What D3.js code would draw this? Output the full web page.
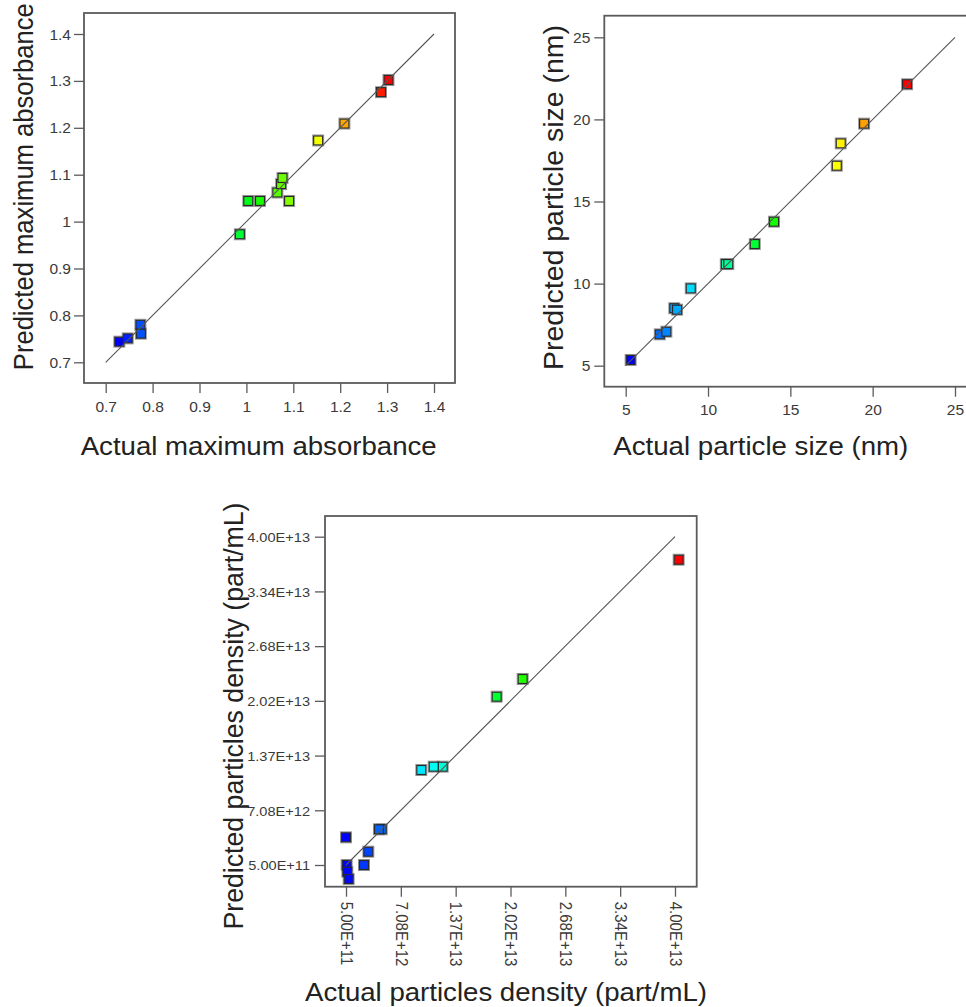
<!DOCTYPE html>
<html>
<head>
<meta charset="utf-8">
<script src="https://cdn.jsdelivr.net/npm/d3@7"></script>
<style>
  html, body { margin: 0; padding: 0; background: #fff; }
  svg { display: block; font-family: Arial, "Liberation Sans", sans-serif; }
</style>
</head>
<body>
<svg id="fig" width="966" height="1007"></svg>
<script>
// ---- Maximum absorbance: actual vs predicted ----
const absActual    = [0.729, 0.747, 0.774, 0.775, 0.986, 1.004, 1.029, 1.066, 1.074, 1.077, 1.091, 1.153, 1.209, 1.287, 1.303];
const absPredicted = [0.744, 0.751, 0.780, 0.761, 0.973, 1.044, 1.044, 1.062, 1.080, 1.093, 1.044, 1.173, 1.209, 1.276, 1.302];
const absTicks      = [0.7, 0.8, 0.9, 1.0, 1.1, 1.2, 1.3, 1.4];
const absTickLabels = ["0.7", "0.8", "0.9", "1", "1.1", "1.2", "1.3", "1.4"];

// ---- Particle size (nm): actual vs predicted ----
const sizeActual    = [5.30, 7.07, 7.47, 7.95, 8.12, 8.95, 11.08, 11.23, 12.84, 14.01, 17.82, 18.06, 19.48, 22.09];
const sizePredicted = [5.35, 6.91, 7.07, 8.50, 8.41, 9.71, 11.19, 11.19, 12.41, 13.77, 17.18, 18.54, 19.74, 22.14];
const sizeTicks      = [5, 10, 15, 20, 25];
const sizeTickLabels = ["5", "10", "15", "20", "25"];

// ---- Particles density (part/mL): actual vs predicted ----
const densActual    = [4.044e13, 2.171e13, 1.859e13, 1.211e13, 1.103e13, 0.954e13, 0.479e13, 0.446e13, 0.050e13, 0.318e13, 0.266e13, 0.058e13, 0.066e13, 0.082e13];
const densPredicted = [3.723e13, 2.288e13, 2.075e13, 1.233e13, 1.233e13, 1.193e13, 0.480e13, 0.480e13, 0.383e13, 0.210e13, 0.050e13, 0.050e13, -0.031e13, -0.118e13];
const densTicks      = [5.0e11, 7.0833e12, 1.36667e13, 2.025e13, 2.68333e13, 3.34167e13, 4.0e13];
const densTickLabels = ["5.00E+11", "7.08E+12", "1.37E+13", "2.02E+13", "2.68E+13", "3.34E+13", "4.00E+13"];

const svg = d3.select("#fig");
const STRETCH = 1.08;          // horizontal glyph widening used throughout the figure
const FRAME = "#5b5b5b";
const INK = "#222";
const TICK_INK = "#3a3a3a";
const FONT = "Arial, 'Liberation Sans', sans-serif";

function drawPanel(p) {
  const g = svg.append("g");
  const t0 = p.ticks[0], t1 = p.ticks[p.ticks.length - 1];
  const x = d3.scaleLinear().domain([t0, t1]).range(p.xPx);
  const y = d3.scaleLinear().domain([t0, t1]).range(p.yPx);

  // points are coloured by their actual value: blue (low) through green to red (high)
  const lo = d3.min(p.actual), hi = d3.max(p.actual);
  const color = d3.scaleLinear()
    .domain(d3.range(5).map(i => lo + i * (hi - lo) / 4))
    .range(["#0000ff", "#00ffff", "#00ff00", "#ffff00", "#ff0000"])
    .clamp(true);

  // plot frame
  g.append("rect")
    .attr("x", p.frame[0]).attr("y", p.frame[1])
    .attr("width", p.frame[2] - p.frame[0]).attr("height", p.frame[3] - p.frame[1])
    .attr("fill", "#fff").attr("stroke", FRAME).attr("stroke-width", 1.8);

  const fmt = (d, i) => p.labels[i];

  // bottom axis
  const ax = g.append("g")
    .attr("transform", `translate(0,${p.frame[3]})`)
    .call(d3.axisBottom(x).tickValues(p.ticks).tickFormat(fmt).tickSize(10).tickSizeOuter(0));
  ax.select(".domain").remove();
  ax.selectAll(".tick line").attr("stroke", FRAME).attr("stroke-width", 1.3);
  const axText = ax.selectAll(".tick text")
    .attr("fill", TICK_INK).attr("font-family", FONT);
  if (p.rotateX) {
    axText.attr("font-size", p.xTickFont)
      .attr("x", 0).attr("y", 0).attr("dy", "0.35em")
      .attr("text-anchor", "start")
      .attr("transform", `translate(0,${p.xLabelOffset}) scale(${STRETCH},1) rotate(90)`);
  } else {
    axText.attr("font-size", p.tickFont)
      .attr("y", 0).attr("dy", 0)
      .attr("transform", `translate(0,${p.xLabelOffset}) scale(${STRETCH},1)`);
  }

  // left axis
  const ay = g.append("g")
    .attr("transform", `translate(${p.frame[0]},0)`)
    .call(d3.axisLeft(y).tickValues(p.ticks).tickFormat(fmt).tickSize(10).tickSizeOuter(0));
  ay.select(".domain").remove();
  ay.selectAll(".tick line").attr("stroke", FRAME).attr("stroke-width", 1.3);
  ay.selectAll(".tick text")
    .attr("fill", TICK_INK).attr("font-size", p.tickFont).attr("font-family", FONT)
    .attr("x", 0).attr("dy", "0.35em")
    .attr("transform", `translate(${-p.yLabelOffset},0) scale(${STRETCH},1)`);

  // data points
  const pts = p.actual.map((a, i) => ({ a, pr: p.predicted[i] }));
  const s = p.marker;
  g.append("g").selectAll("rect").data(pts).join("rect")
    .attr("x", d => x(d.a) - s / 2 - 1).attr("y", d => y(d.pr) - s / 2 - 1)
    .attr("width", s + 2).attr("height", s + 2)
    .attr("fill", "none").attr("stroke", "#9a9a9a").attr("stroke-width", 1);
  g.append("g").selectAll("rect").data(pts).join("rect")
    .attr("x", d => x(d.a) - s / 2).attr("y", d => y(d.pr) - s / 2)
    .attr("width", s).attr("height", s)
    .attr("fill", d => color(d.a)).attr("stroke", "#2a2a2a").attr("stroke-width", 1.2);

  // line of perfect agreement
  g.append("line")
    .attr("x1", x(t0)).attr("y1", y(t0)).attr("x2", x(t1)).attr("y2", y(t1))
    .attr("stroke", "#555").attr("stroke-width", 1.1);

  // axis titles
  g.append("text")
    .attr("x", p.xTitle[0]).attr("y", p.xTitle[1])
    .attr("text-anchor", "middle").attr("fill", INK)
    .attr("font-size", p.titleFont)
    .attr("textLength", p.xTitle[2]).attr("lengthAdjust", "spacingAndGlyphs")
    .text(p.xLabel);
  g.append("text")
    .attr("transform", `translate(${p.yTitle[0]},${p.yTitle[1]}) scale(${STRETCH},1) rotate(-90)`)
    .attr("text-anchor", "middle").attr("fill", INK)
    .attr("font-size", p.titleFont)
    .attr("textLength", p.yTitle[2]).attr("lengthAdjust", "spacingAndGlyphs")
    .text(p.yLabel);
}

drawPanel({
  actual: absActual, predicted: absPredicted,
  ticks: absTicks, labels: absTickLabels,
  frame: [84, 13, 455, 383],
  xPx: [105.7, 434], yPx: [362.3, 34],
  tickFont: 14.4, xLabelOffset: 28.5, yLabelOffset: 13,
  marker: 9,
  titleFont: 25.6,
  xLabel: "Actual maximum absorbance", xTitle: [258.7, 455, 356],
  yLabel: "Predicted maximum absorbance", yTitle: [33, 186.7, 367]
});

drawPanel({
  actual: sizeActual, predicted: sizePredicted,
  ticks: sizeTicks, labels: sizeTickLabels,
  frame: [604.3, 15.7, 976.5, 386.7],
  xPx: [625.7, 955], yPx: [365.7, 37.3],
  tickFont: 14.4, xLabelOffset: 28, yLabelOffset: 14,
  marker: 9,
  titleFont: 25.6,
  xLabel: "Actual particle size (nm)", xTitle: [760.8, 455, 295],
  yLabel: "Predicted particle size (nm)", yTitle: [563, 197.5, 345]
});

drawPanel({
  actual: densActual, predicted: densPredicted,
  ticks: densTicks, labels: densTickLabels,
  frame: [325, 516, 696.7, 886.7],
  xPx: [346, 675], yPx: [865, 536.7],
  tickFont: 13.5, xTickFont: 15, xLabelOffset: 15, yLabelOffset: 15,
  marker: 9,
  titleFont: 25.6,
  rotateX: true,
  xLabel: "Actual particles density (part/mL)", xTitle: [506, 1001, 402],
  yLabel: "Predicted particles density (part/mL)", yTitle: [243, 716, 427]
});
</script>
</body>
</html>
